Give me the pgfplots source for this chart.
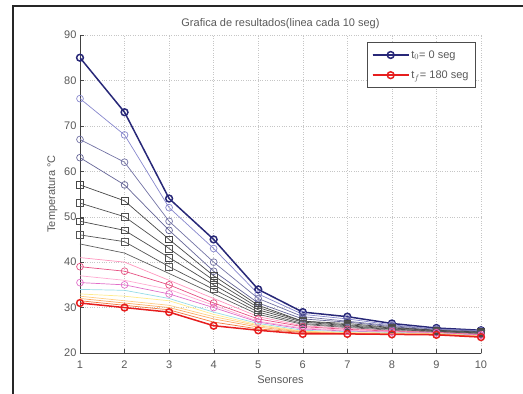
\documentclass[border=0pt]{standalone}
\usepackage{pgfplots}
\usepackage{pgfplotstable}
\pgfplotsset{compat=1.18}
\usepackage{fontspec}
\setmainfont{Liberation Sans}
\pgfplotstableread{
x  a0   a1   a2   a3   a4   a5   a6   a7   a8   a9   a10  a11  a12  a13  a14  a15  a16  a17  a18
1  85   76   67   63   57   53   49   46   44   41   39   37   35.5 34   33   32.5 32   31.5 31
2  73   68   62   57   53.5 50   47   44.5 42   40   38   36   35   33.8 32.5 31.5 31   30.5 30
3  54   52   49   47   45   43   41   39   37.5 36   35   34   33   32   31.5 30.5 30   29.5 29
4  45   43   40   38   37   36   35   34   33   32   31   30.5 30   29   28.5 28   27.5 26.8 26
5  34   33   32   31   30.5 30   29.5 29   28.5 28   27.5 27   26.8 26.5 26.2 26   25.7 25.3 25
6  29   28.5 28   27.5 27   27   26.8 26.5 26.3 26   25.8 25.5 25.3 25   24.8 24.7 24.6 24.5 24.2
7  28   27.5 27   26.8 26.5 26.2 26   25.8 25.6 25.4 25.2 25   24.8 24.7 24.5 24.4 24.3 24.2 24.2
8  26.5 26.2 26   25.8 25.6 25.5 25.3 25.2 25   24.9 24.8 24.7 24.6 24.5 24.4 24.3 24.2 24.1 24.1
9  25.5 25.3 25.2 25   25   24.9 24.8 24.7 24.6 24.5 24.5 24.4 24.4 24.3 24.3 24.2 24.2 24.1 24
10 25   24.9 24.8 24.7 24.6 24.5 24.4 24.3 24.2 24.1 24   23.9 23.9 23.8 23.7 23.7 23.6 23.6 23.5
}\data
\definecolor{c0}{RGB}{40,40,120}
\definecolor{c1}{RGB}{135,135,205}
\definecolor{c2}{RGB}{115,115,165}
\definecolor{c3}{RGB}{100,100,150}
\definecolor{c4}{RGB}{70,70,70}
\definecolor{c5}{RGB}{80,80,80}
\definecolor{c6}{RGB}{75,75,75}
\definecolor{c7}{RGB}{85,85,85}
\definecolor{c8}{RGB}{95,95,95}
\definecolor{c9}{RGB}{255,150,190}
\definecolor{c10}{RGB}{230,80,130}
\definecolor{c11}{RGB}{255,170,210}
\definecolor{c12}{RGB}{225,110,200}
\definecolor{c13}{RGB}{150,220,230}
\definecolor{c14}{RGB}{255,235,140}
\definecolor{c15}{RGB}{255,205,130}
\definecolor{c16}{RGB}{250,170,100}
\definecolor{c17}{RGB}{240,120,60}
\definecolor{c18}{RGB}{230,30,30}
\begin{document}
\begin{tikzpicture}[x=1pt,y=1pt]
\useasboundingbox (0,0) rectangle (523,394);
\draw[line width=2.5pt,color=black!85] (13,0) -- (13,388) -- (523,388);
\begin{axis}[
  at={(80pt,41pt)}, anchor=south west,
  scale only axis, width=401pt, height=318pt,
  xmin=1, xmax=10, ymin=20, ymax=90,
  xtick={1,...,10}, ytick={20,30,...,90},
  axis x line*=bottom, axis y line*=left,
  axis line style={black!75},
  tick style={black!70}, tick align=inside,
  grid=major, grid style={dotted, gray!45},
  ticklabel style={font=\fontsize{11}{12}\selectfont, text=black!65},
  xticklabel style={yshift=-4pt},
  /pgf/number format/assume math mode=true,
  title={Grafica de resultados(linea cada 10 seg)},
  title style={font=\fontsize{11}{12}\selectfont, text=black!65, yshift=-3pt},
  xlabel={Sensores}, ylabel={Temperatura \textdegree C},
  label style={font=\fontsize{11}{12}\selectfont, text=black!65},
  xlabel style={yshift=-1pt}, ylabel style={yshift=0pt},
  legend style={at={(0.9875,0.978)}, anchor=north east, font=\fontsize{11}{12}\selectfont,
    draw=black!70, line width=0.8pt, text=black!65, inner xsep=5pt, inner ysep=6pt, row sep=7pt},
  legend cell align=left,
  legend image code/.code={\draw[#1] (0pt,0pt) -- (36pt,0pt); \draw[#1, mark repeat=2, mark phase=2] plot coordinates {(0pt,0pt) (18pt,0pt) (36pt,0pt)};},
  every axis plot/.append style={mark size=3.4pt, line width=0.7pt},
]
\addplot[c0, line width=1.5pt, mark=o] table[x=x,y=a0] {\data};
\addlegendentry{t$_0$= 0 seg}
\addplot[c1, mark=o, forget plot] table[x=x,y=a1] {\data};
\addplot[c2, mark=o, forget plot] table[x=x,y=a2] {\data};
\addplot[c3, mark=o, forget plot] table[x=x,y=a3] {\data};
\addplot[c4, mark=square, forget plot] table[x=x,y=a4] {\data};
\addplot[c5, mark=square, forget plot] table[x=x,y=a5] {\data};
\addplot[c6, mark=square, forget plot] table[x=x,y=a6] {\data};
\addplot[c7, mark=square, forget plot] table[x=x,y=a7] {\data};
\addplot[c8, no marks, forget plot] table[x=x,y=a8] {\data};
\addplot[c9, no marks, forget plot] table[x=x,y=a9] {\data};
\addplot[c10, mark=o, forget plot] table[x=x,y=a10] {\data};
\addplot[c11, no marks, forget plot] table[x=x,y=a11] {\data};
\addplot[c12, mark=o, forget plot] table[x=x,y=a12] {\data};
\addplot[c13, no marks, forget plot] table[x=x,y=a13] {\data};
\addplot[c14, no marks, forget plot] table[x=x,y=a14] {\data};
\addplot[c15, no marks, forget plot] table[x=x,y=a15] {\data};
\addplot[c16, no marks, forget plot] table[x=x,y=a16] {\data};
\addplot[c17, no marks, forget plot] table[x=x,y=a17] {\data};
\addplot[c18, line width=1.5pt, mark=o] table[x=x,y=a18] {\data};
\addlegendentry{t$_f$= 180 seg}
\end{axis}
\end{tikzpicture}
\end{document}
